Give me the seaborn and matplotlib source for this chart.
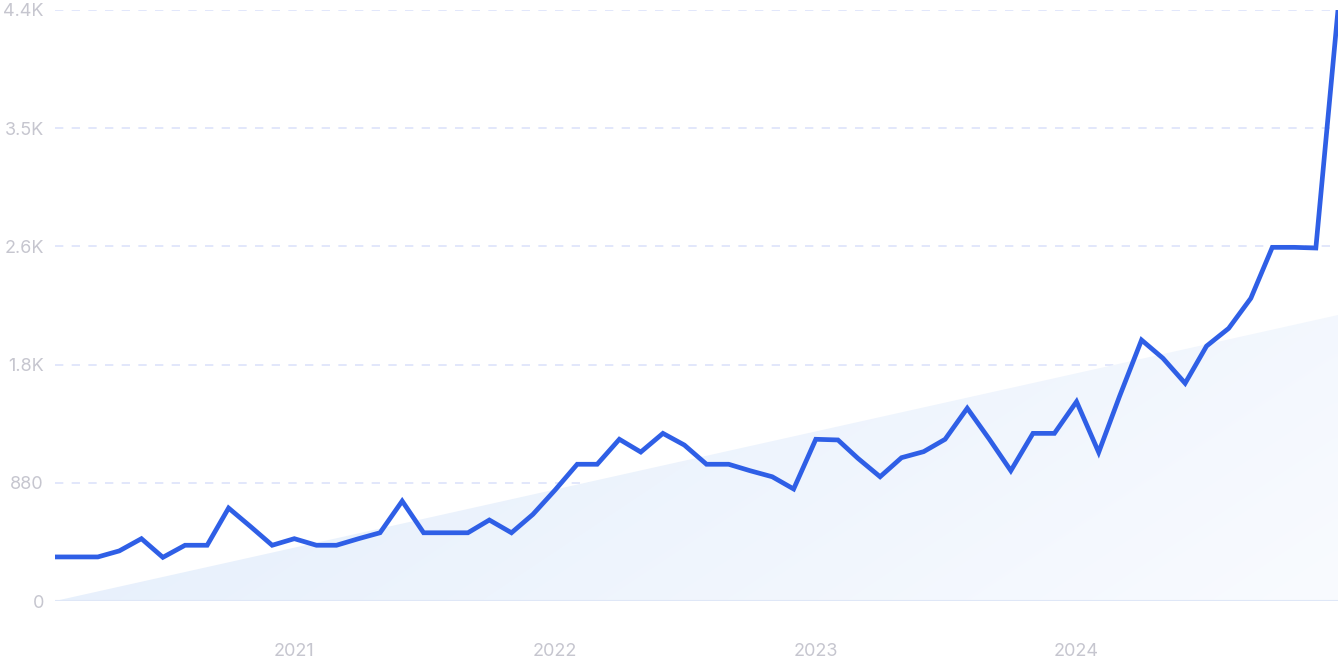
import numpy as np
import pandas as pd
import matplotlib
matplotlib.use("Agg")
import matplotlib.pyplot as plt
import matplotlib.dates as mdates
import seaborn as sns

# ---- data ----
start_month = "2020-02-01"
values = [328, 328, 328, 373, 464, 325, 415, 415, 692, 553,
          415, 464, 415, 415, 464, 508, 744, 508, 508, 508,
          603, 508, 645, 826, 1018, 1018, 1204, 1109, 1248, 1161,
          1018, 1018, 970, 925, 834, 1204, 1199, 1062, 925, 1067,
          1112, 1204, 1435, 1204, 970, 1248, 1248, 1484, 1107, 1521,
          1943, 1807, 1621, 1898, 2030, 2254, 2633, 2633, 2628, 4400]
trend_values = [0, 2129]
y_ticks = [0, 880, 1760, 2640, 3520, 4400]
y_tick_labels = ["0", "880", "1.8K", "2.6K", "3.5K", "4.4K"]
x_tick_years = ["2021", "2022", "2023", "2024"]

dates = pd.date_range(start_month, periods=len(values), freq="MS")
df = pd.DataFrame({"date": dates, "value": values})

sns.set_theme(style="white")
plt.rcParams["font.family"] = ["Inter", "DejaVu Sans"]

fig = plt.figure(figsize=(13.43, 6.71), dpi=100)
W, H = 1343, 671
ax = fig.add_axes([55 / W, (H - 601) / H, (1338 - 55) / W, (601 - 10) / H])

x0 = mdates.date2num(dates[0])
x1 = mdates.date2num(dates[-1])

# trend area with gradient
trend_x = [dates[0], dates[-1]]
poly = ax.fill_between(trend_x, [0, 0], trend_values, color="none", lw=0, zorder=1)
grad = np.zeros((100, 200, 4))
xs = np.linspace(0, 1, 200)[None, :]
ys = np.linspace(0, 1, 100)[:, None]
t = np.clip(0.75 * xs + 0.25 * (1 - ys), 0, 1)
c0 = np.array([226, 237, 251]) / 255
c1 = np.array([249, 251, 255]) / 255
for k in range(3):
    grad[..., k] = c0[k] * (1 - t) + c1[k] * t
grad[..., 3] = 1
im = ax.imshow(grad, extent=[x0, x1, 0, trend_values[1]], origin="lower",
               aspect="auto", zorder=1, interpolation="bicubic")
im.set_clip_path(poly.get_paths()[0], transform=ax.transData)

# gridlines
for yv in y_ticks[1:]:
    ax.axhline(yv, color="#dde3fb", lw=1.2, ls=(0, (5, 5)), zorder=0.5)
ax.axhline(0, color="#dfe7f7", lw=1.5, zorder=2)

sns.lineplot(data=df, x="date", y="value", ax=ax, color="#2f5fe6", lw=3.4,
             zorder=3, solid_joinstyle="miter")

ax.set_xlim(x0, x1)
ax.set_ylim(0, 4400)
ax.set_yticks(y_ticks)
ax.set_yticklabels(y_tick_labels)
ax.set_xticks([mdates.date2num(pd.Timestamp(f"{y}-01-01")) for y in x_tick_years])
ax.set_xticklabels(x_tick_years)
ax.tick_params(axis="y", length=0, pad=8, labelsize=13, labelcolor="#c6c6cf")
ax.tick_params(axis="x", length=0, pad=30, labelsize=13, labelcolor="#c6c6cf")
ax.set_xlabel("")
ax.set_ylabel("")
for s in ax.spines.values():
    s.set_visible(False)
ax.grid(False)

fig.savefig("out.png", dpi=100, facecolor="white")
